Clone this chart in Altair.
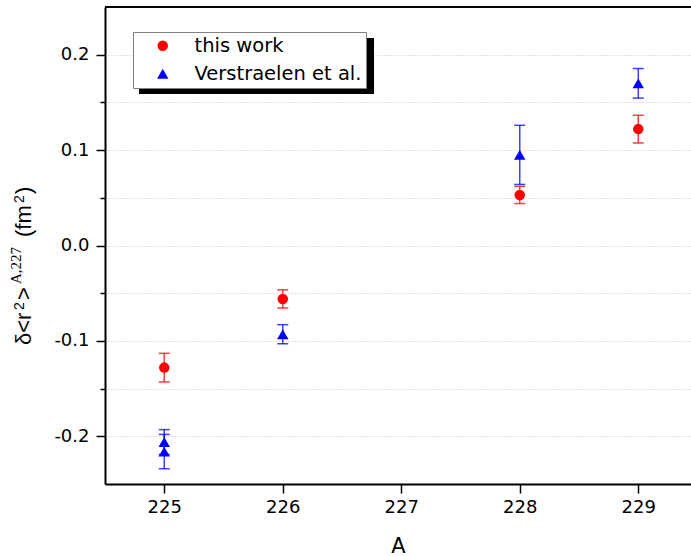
import altair as alt
import pandas as pd

# ---- data ----
series_names = ["this work", "Verstraelen et al."]
A_this = [225, 226, 228, 229]
val_this = [-0.128, -0.056, 0.053, 0.122]
err_this = [0.015, 0.0095, 0.009, 0.0145]
A_ver = [225, 225, 226, 228, 229]
val_ver = [-0.206, -0.216, -0.093, 0.095, 0.170]
err_ver = [0.013, 0.018, 0.010, 0.031, 0.0155]
x_ticks = [225, 226, 227, 228, 229]
y_ticks = [-0.2, -0.15, -0.1, -0.05, 0.0, 0.05, 0.1, 0.15, 0.2]

rows = []
for a, v, e in zip(A_this, val_this, err_this):
    rows.append({"A": a, "v": v, "lo": v - e, "hi": v + e, "series": series_names[0]})
for a, v, e in zip(A_ver, val_ver, err_ver):
    rows.append({"A": a, "v": v, "lo": v - e, "hi": v + e, "series": series_names[1]})
df = pd.DataFrame(rows)

FONT = "DejaVu Sans"
major_test = "abs(datum.value*10 - round(datum.value*10)) < 0.001"

color_scale = alt.Scale(domain=series_names, range=["#ff0000", "#0000ff"])
shape_scale = alt.Scale(domain=series_names, range=["circle", "triangle-up"])
x_scale = alt.Scale(domain=[224.5, 229.445], nice=False, zero=False)
y_scale = alt.Scale(domain=[-0.25, 0.25], nice=False, zero=False)

x_axis = alt.Axis(values=x_ticks, format="d", grid=False, tickSize=9, tickWidth=1.5,
                  labelPadding=5, labelFontSize=18, labelFont=FONT,
                  titleFontSize=21, titleFont=FONT, titleFontWeight="normal",
                  titleY=68, titleBaseline="alphabetic")
y_axis = alt.Axis(values=y_ticks, grid=True, gridDash=[1, 2], gridColor="#c4c4c4",
                  tickSize={"condition": {"test": major_test, "value": 9}, "value": 5},
                  tickWidth=1.5,
                  labelExpr=major_test +
                  " ? replace(format(datum.value, '.1f'), '\u2212', '-') : ''",
                  labelPadding=7, labelFontSize=18, labelFont=FONT)

legend = alt.Legend(title=None, orient="none", legendX=28, legendY=25,
                    fillColor="white", strokeColor="#808080", padding=4,
                    symbolOffset=16, labelOffset=22, labelFontSize=19.5,
                    labelFont=FONT, labelColor="black", rowPadding=7,
                    symbolSize=64, symbolStrokeWidth=0, symbolOpacity=1,
                    labelLimit=0)

X = lambda f: alt.X(f, scale=x_scale, axis=x_axis, title="A")
Y = lambda f: alt.Y(f, scale=y_scale, axis=y_axis, title=None)
C = alt.Color("series:N", scale=color_scale, legend=legend)
S = alt.Shape("series:N", scale=shape_scale, legend=legend)

base = alt.Chart(df)

err_rule = base.mark_rule(strokeWidth=1.5, opacity=0.75).encode(
    x=X("A:Q"), y=Y("lo:Q"), y2="hi:Q", color=C,
)
cap_lo = base.mark_tick(orient="horizontal", size=11, thickness=1.5, opacity=0.75).encode(
    x=X("A:Q"), y=Y("lo:Q"), color=C,
)
cap_hi = base.mark_tick(orient="horizontal", size=11, thickness=1.5, opacity=0.75).encode(
    x=X("A:Q"), y=Y("hi:Q"), color=C,
)

points = base.mark_point(filled=True, opacity=1).encode(
    x=X("A:Q"), y=Y("v:Q"), color=C, shape=S,
    size=alt.Size("series:N", scale=alt.Scale(domain=series_names, range=[110, 130]), legend=None),
)

one = alt.Data(values=[{}])
top_border = alt.Chart(one).mark_rule(color="black", strokeWidth=2).encode(
    y=alt.Y(datum=0.25, scale=y_scale, axis=y_axis, title=None)
)

shadow = alt.Chart(one).mark_rect(color="black").encode(
    x=alt.value(34), x2=alt.value(269), y=alt.value(31), y2=alt.value(87)
)

# y-axis title built from pieces (superscripts)
title_pieces = [
    ("\u03b4<r", "Liberation Sans", 22, 345, 31),
    ("2", "Liberation Sans", 14, 310, 24),
    (">", "Liberation Sans", 22, 300, 31),
    ("A,227", "Liberation Serif", 15, 284, 21),
    ("(fm", "Liberation Sans", 22, 237, 31),
    ("2", "Liberation Sans", 14, 203, 24),
    (")", "Liberation Sans", 22, 194, 31),
]
title_layers = []
for txt, font, size, py, px in title_pieces:
    title_layers.append(
        alt.Chart(one).mark_text(text=txt, font=font, fontSize=size, angle=270,
                                 align="left", baseline="alphabetic", color="black")
        .encode(x=alt.value(px - 105), y=alt.value(py - 7))
    )

chart = alt.layer(
    top_border, err_rule, cap_lo, cap_hi, points, shadow, *title_layers
).properties(
    width=586, height=477,
    padding={"left": 105, "top": 7, "right": 0, "bottom": 72},
    autosize=alt.AutoSizeParams(type="none"),
).configure_view(stroke=None).configure_axis(
    domainColor="black", domainWidth=2, tickColor="black", labelColor="black",
    titleColor="black",
)

chart.save("out.html", embed_options={"renderer": "svg", "actions": False})
